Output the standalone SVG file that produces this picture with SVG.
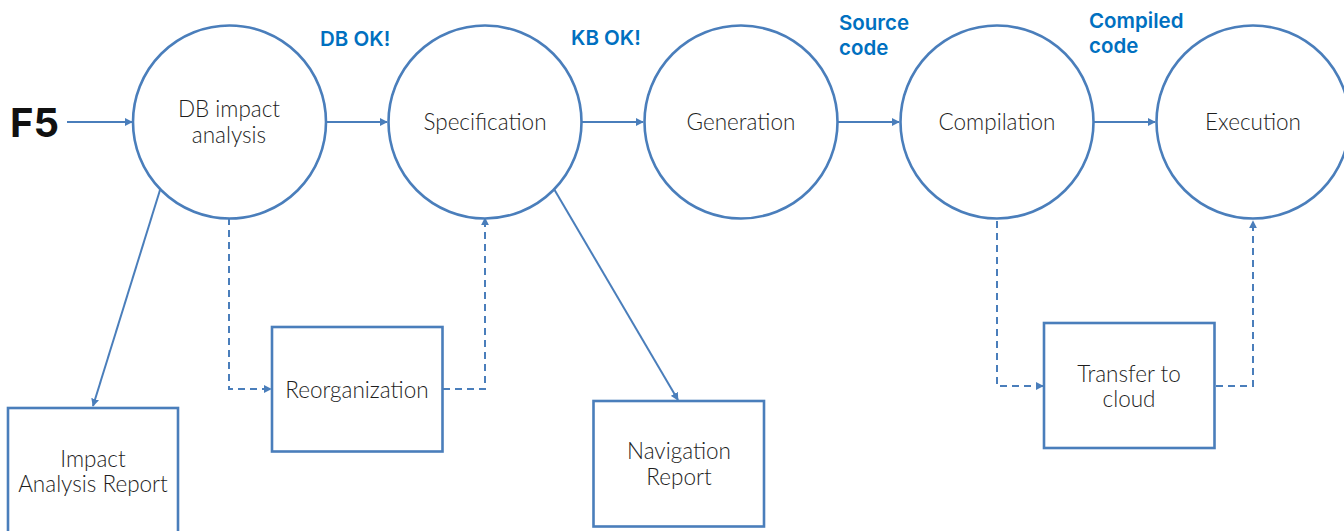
<svg xmlns="http://www.w3.org/2000/svg" width="1344" height="531" viewBox="0 0 1344 531">
  <defs>
    <marker id="arrow" viewBox="0 0 10 10" refX="9" refY="5" markerWidth="8" markerHeight="8" markerUnits="userSpaceOnUse" orient="auto">
      <path d="M0,0 L10,5 L0,10 Z" fill="#4a7ebb"/>
    </marker>
    <style>
      .node { fill: #ffffff; stroke: #4a7ebb; stroke-width: 2.6; }
      .link { fill: none; stroke: #4a7ebb; stroke-width: 2; }
      .dash { stroke-dasharray: 7 5; }
      .label { font-family: Lato, Inter, "Liberation Sans", sans-serif; font-weight: 300; font-size: 22.5px; fill: #1e1e1e; text-anchor: middle; }
      .tag { font-family: Inter, "Liberation Sans", sans-serif; font-weight: 600; font-size: 20.5px; fill: #0070c0; }
      .start { font-family: Inter, "Liberation Sans", sans-serif; font-weight: 700; font-size: 40px; fill: #111111; }
    </style>
  </defs>
  <rect width="1344" height="531" fill="#ffffff"/>

  <!-- connectors -->
  <g id="connectors">
    <line class="link" x1="67" y1="122" x2="132" y2="122" marker-end="url(#arrow)"/>
    <line class="link" x1="326" y1="122" x2="387" y2="122" marker-end="url(#arrow)"/>
    <line class="link" x1="582" y1="122" x2="643" y2="122" marker-end="url(#arrow)"/>
    <line class="link" x1="838" y1="122" x2="899" y2="122" marker-end="url(#arrow)"/>
    <line class="link" x1="1094" y1="122" x2="1155" y2="122" marker-end="url(#arrow)"/>
    <line class="link" x1="160" y1="190" x2="93" y2="406" marker-end="url(#arrow)"/>
    <line class="link" x1="554" y1="189" x2="678" y2="400" marker-end="url(#arrow)"/>
    <polyline class="link dash" points="229,218 229,389 271,389" marker-end="url(#arrow)"/>
    <polyline class="link dash" points="443,389 485,389 485,218" marker-end="url(#arrow)"/>
    <polyline class="link dash" points="997,221 997,386 1043,386" marker-end="url(#arrow)"/>
    <polyline class="link dash" points="1216,386 1253,386 1253,221" marker-end="url(#arrow)"/>
  </g>

  <!-- start label -->
  <text class="start" x="10" y="137">F5</text>

  <!-- data passed between stages -->
  <text class="tag" x="320" y="46">DB OK!</text>
  <text class="tag" x="571" y="45">KB OK!</text>
  <text class="tag" x="839" y="30">Source<tspan x="839" dy="25">code</tspan></text>
  <text class="tag" x="1089" y="28">Compiled<tspan x="1089" dy="25">code</tspan></text>

  <!-- stages -->
  <g id="db-impact-analysis">
    <circle class="node" cx="229.5" cy="122" r="96.5"/>
    <text class="label" x="229" y="117">DB impact<tspan x="229" dy="26">analysis</tspan></text>
  </g>
  <g id="specification">
    <circle class="node" cx="485" cy="122" r="96.5"/>
    <text class="label" x="485" y="130">Specification</text>
  </g>
  <g id="generation">
    <circle class="node" cx="741" cy="122" r="96.5"/>
    <text class="label" x="741" y="130">Generation</text>
  </g>
  <g id="compilation">
    <circle class="node" cx="997" cy="122" r="96.5"/>
    <text class="label" x="997" y="130">Compilation</text>
  </g>
  <g id="execution">
    <circle class="node" cx="1253" cy="122" r="96.5"/>
    <text class="label" x="1253" y="130">Execution</text>
  </g>

  <!-- side activities and reports -->
  <g id="impact-analysis-report">
    <rect class="node" x="8" y="408" width="170" height="140"/>
    <text class="label" x="93" y="467">Impact<tspan x="93" dy="25">Analysis Report</tspan></text>
  </g>
  <g id="reorganization">
    <rect class="node" x="272" y="327" width="170.5" height="124.5"/>
    <text class="label" x="357" y="398">Reorganization</text>
  </g>
  <g id="navigation-report">
    <rect class="node" x="593.5" y="401" width="170.5" height="125.5"/>
    <text class="label" x="679" y="459">Navigation<tspan x="679" dy="26">Report</tspan></text>
  </g>
  <g id="transfer-to-cloud">
    <rect class="node" x="1044" y="323" width="170.5" height="125"/>
    <text class="label" x="1129" y="382">Transfer to<tspan x="1129" dy="25">cloud</tspan></text>
  </g>
</svg>
